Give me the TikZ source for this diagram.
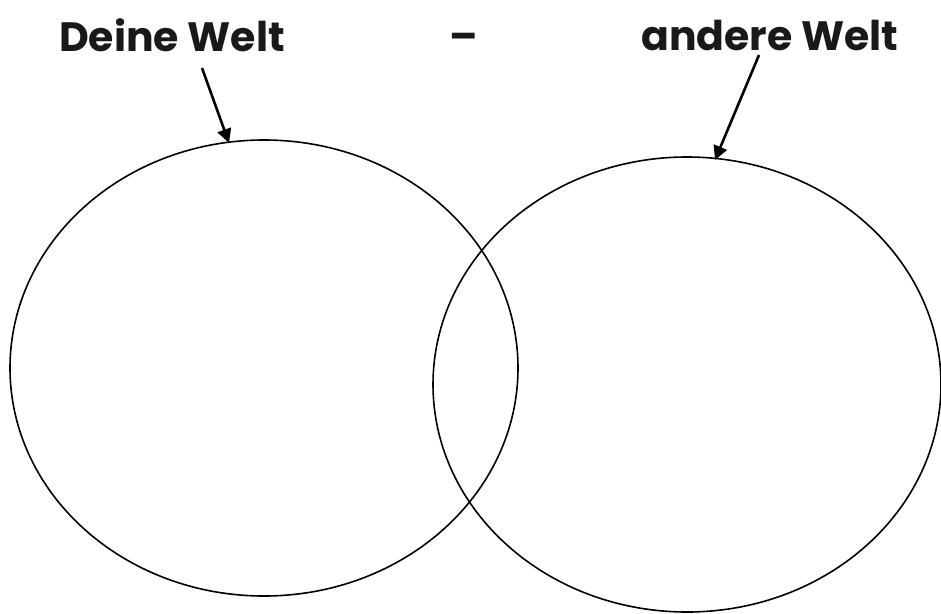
\documentclass[tikz,border=0pt]{standalone}
\usepackage{fontspec}
\setmainfont{Poppins}
\usetikzlibrary{arrows.meta}
\tikzset{
  world/.style={draw=black, line width=1.6pt},
  lbl/.style={font=\fontsize{41}{44}\selectfont\bfseries, text=black!90, inner sep=0pt},
  pointer/.style={line width=2.6pt, -{Triangle[length=14pt,width=14pt]}}
}
\begin{document}
\begin{tikzpicture}[x=1pt,y=-1pt]
\useasboundingbox (0,0) rectangle (941,613);
\draw[world] (264,368) ellipse [x radius=254, y radius=228];
\draw[world] (687,384.5) ellipse [x radius=254, y radius=227.5];
\node[lbl] (dw) at (172,35) {Deine Welt};
\node[lbl] (dash) at (464,42) {–};
\node[lbl] (aw) at (770,35) {andere Welt};
\coordinate (a1s) at (202,68);
\coordinate (a1e) at (229,143);
\coordinate (a2s) at (759,55);
\coordinate (a2e) at (715,160);
\draw[pointer] (a1s) -- (a1e);
\draw[pointer] (a2s) -- (a2e);
\end{tikzpicture}
\end{document}
